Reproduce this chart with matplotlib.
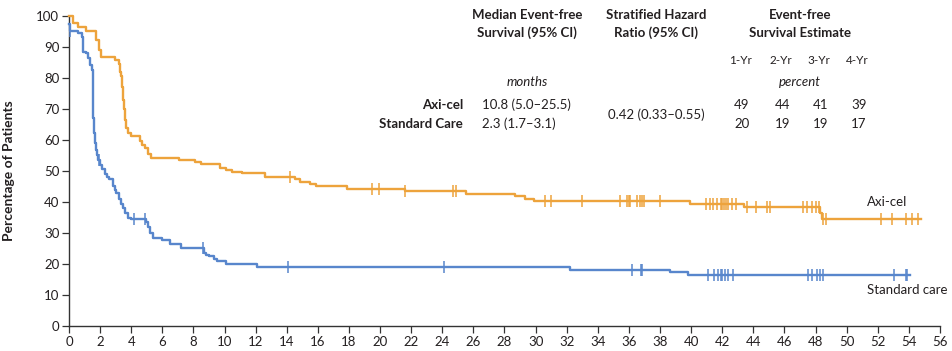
import numpy as np
import matplotlib
matplotlib.use('Agg')
import matplotlib.pyplot as plt

plt.rcParams['font.family'] = ['Lato', 'DejaVu Sans']

#------------------------------------------------------
# data (months, percent)
#------------------------------------------------------
axi_t = [0, 0.25, 0.57, 1.1, 1.75, 1.92, 2.07, 2.29, 2.93, 3.2, 3.3, 3.36, 3.42, 3.47,
         3.52, 3.57, 3.68, 3.79, 4.0, 4.54, 4.7, 4.86, 5.07, 5.29, 7.1, 8.08, 8.5, 9.7,
         10.1, 10.5, 11.1, 12.6, 14.5, 14.84, 15.5, 15.9, 17.85, 21.6, 25.5, 28.7, 29.3,
         29.9, 39.9, 43.4, 48.3, 48.4, 54.8]
axi_s = [100, 97.8, 96.3, 95.2, 92.3, 89, 86.7, 86.7, 85.8, 84.6, 82, 80.5, 77, 73,
         70, 66.6, 64, 62.3, 61.2, 59.6, 58.5, 57.5, 55.6, 54.2, 53.6, 53, 52.4, 51,
         50.3, 49.6, 49.2, 48, 47.3, 46.4, 45.7, 45.2, 44.1, 43.4, 42.6, 41.9, 41.0,
         40.4, 39.5, 38.5, 36.6, 34.5, 34.5]
axi_cens = [14.2, 19.5, 19.95, 21.6, 24.7, 24.9, 30.6, 31.0, 33.0, 35.4, 35.9, 36.0, 36.1,
            36.5, 36.7, 36.85, 37.0, 38.0, 40.96, 41.2, 41.4, 41.65, 41.9, 42.0, 42.1,
            42.25, 42.4, 42.6, 42.9, 43.6, 44.2, 44.9, 45.1, 47.2, 47.45, 47.8, 48.0,
            48.2, 48.45, 48.7, 52.2, 52.9, 53.8, 54.2, 54.6]

std_t = [0, 0.05, 0.57, 0.85, 0.93, 1.1, 1.21, 1.36, 1.47, 1.53, 1.57, 1.6, 1.65, 1.71,
         1.78, 1.86, 2.0, 2.15, 2.3, 2.45, 2.6, 2.82, 2.95, 3.04, 3.2, 3.35, 3.5, 3.62,
         3.8, 4.0, 4.95, 5.05, 5.2, 5.4, 6.0, 6.5, 7.2, 8.65, 8.8, 9.0, 9.3, 9.5, 10.1,
         12.1, 32.2, 38.65, 39.8, 54.1]
std_s = [97.5, 95, 94.4, 93.3, 88.5, 88, 86.4, 84.2, 82.6, 73, 67, 62.3, 59, 56.9,
         55, 53.7, 52, 50.5, 48.9, 48, 47.3, 45.1, 44, 43, 41, 39.5, 38, 36.5,
         35, 34.5, 33.5, 32, 30, 28.4, 27.6, 26.3, 25.3, 23.5, 23, 22.6, 21.5, 21, 20.1,
         18.9, 18.2, 17.3, 16.5, 16.5]
std_cens = [0.05, 1.9, 4.2, 4.9, 8.6, 14.1, 24.1, 36.2, 36.75, 36.85, 41.1, 41.5, 41.7,
            41.9, 42.0, 42.2, 42.4, 42.7, 47.5, 47.8, 48.1, 48.3, 48.5, 53.05, 53.8, 53.9]

years = ['1-Yr', '2-Yr', '3-Yr', '4-Yr']
axi_est = [49, 44, 41, 39]
std_est = [20, 19, 19, 17]
groups = ['Axi-cel', 'Standard Care']
medians = ['10.8 (5.0\u201325.5)', '2.3 (1.7\u20133.1)']
hazard = '0.42 (0.33\u20130.55)'

c_axi = '#EDA33C'
c_std = '#5886CC'
c_txt = '#231F20'

#------------------------------------------------------
# plot
#------------------------------------------------------
W, H = 952, 351
fig = plt.figure(figsize=(W/100, H/100), dpi=100)
ax = fig.add_axes([69/W, 1-326/H, (940-69)/W, (326-16)/H])


def cens_y(t, s, c):
    t = np.array(t)
    s = np.array(s)
    idx = np.searchsorted(t, c, side='right')-1
    return s[idx]


for t, s, cens, col in [(axi_t, axi_s, axi_cens, c_axi), (std_t, std_s, std_cens, c_std)]:
    ax.step(t, s, where='post', color=col, lw=1.7, clip_on=False, zorder=3)
    ax.plot(cens, cens_y(t, s, cens), ls='none', marker='|', ms=8, mew=1.1,
            color=col, clip_on=False, zorder=3)

ax.set_xlim(0, 56)
ax.set_ylim(0, 100)
ax.set_xticks(np.arange(0, 57, 2))
ax.set_yticks(np.arange(0, 101, 10))
for side in ['top', 'right']:
    ax.spines[side].set_visible(False)
for side in ['left', 'bottom']:
    ax.spines[side].set_color('#333333')
    ax.spines[side].set_linewidth(1.0)
ax.tick_params(direction='out', length=5, width=0.9, color='#333333',
               labelsize=9.5, labelcolor=c_txt, pad=2)
ax.set_ylabel('Percentage of Patients', fontsize=10, fontweight='bold', color=c_txt)
ax.yaxis.set_label_coords(-54/871, 0.5)

# curve labels
ax.text(51.3, 39.9, 'Axi-cel', fontsize=9.5, color=c_txt, ha='left', va='center')
ax.text(51.3, 11.6, 'Standard care', fontsize=9.5, color=c_txt, ha='left', va='center',
        clip_on=False)


def ftext(x, y, s, **kw):
    fig.text(x/W, 1-y/H, s, color=c_txt, va='center', **kw)


# table headers
hb = dict(fontsize=9.5, fontweight='bold', ha='center')
ftext(527, 15, 'Median Event-free', **hb)
ftext(527, 33, 'Survival (95% CI)', **hb)
ftext(656, 15, 'Stratified Hazard', **hb)
ftext(656, 33, 'Ratio (95% CI)', **hb)
ftext(800, 15, 'Event-free', **hb)
ftext(800, 33, 'Survival Estimate', **hb)

yr_x = [740, 781, 819, 857]
for x, lab in zip(yr_x, years):
    ftext(x, 60, lab, fontsize=8.5, ha='center')
ftext(527, 82, 'months', fontsize=9.5, style='italic', ha='center')
ftext(800, 82, 'percent', fontsize=9.5, style='italic', ha='center')

row_y = [105, 124]
for y, g, m in zip(row_y, groups, medians):
    ftext(463, y, g, fontsize=9.5, fontweight='bold', ha='right')
    ftext(482, y, m, fontsize=9.5, ha='left')
ftext(656, 115, hazard, fontsize=9.5, ha='center')
for x, a, b in zip(yr_x, axi_est, std_est):
    ftext(x+2, row_y[0], str(a), fontsize=9.5, ha='center')
    ftext(x+2, row_y[1], str(b), fontsize=9.5, ha='center')

plt.savefig('out.png', dpi=100)
